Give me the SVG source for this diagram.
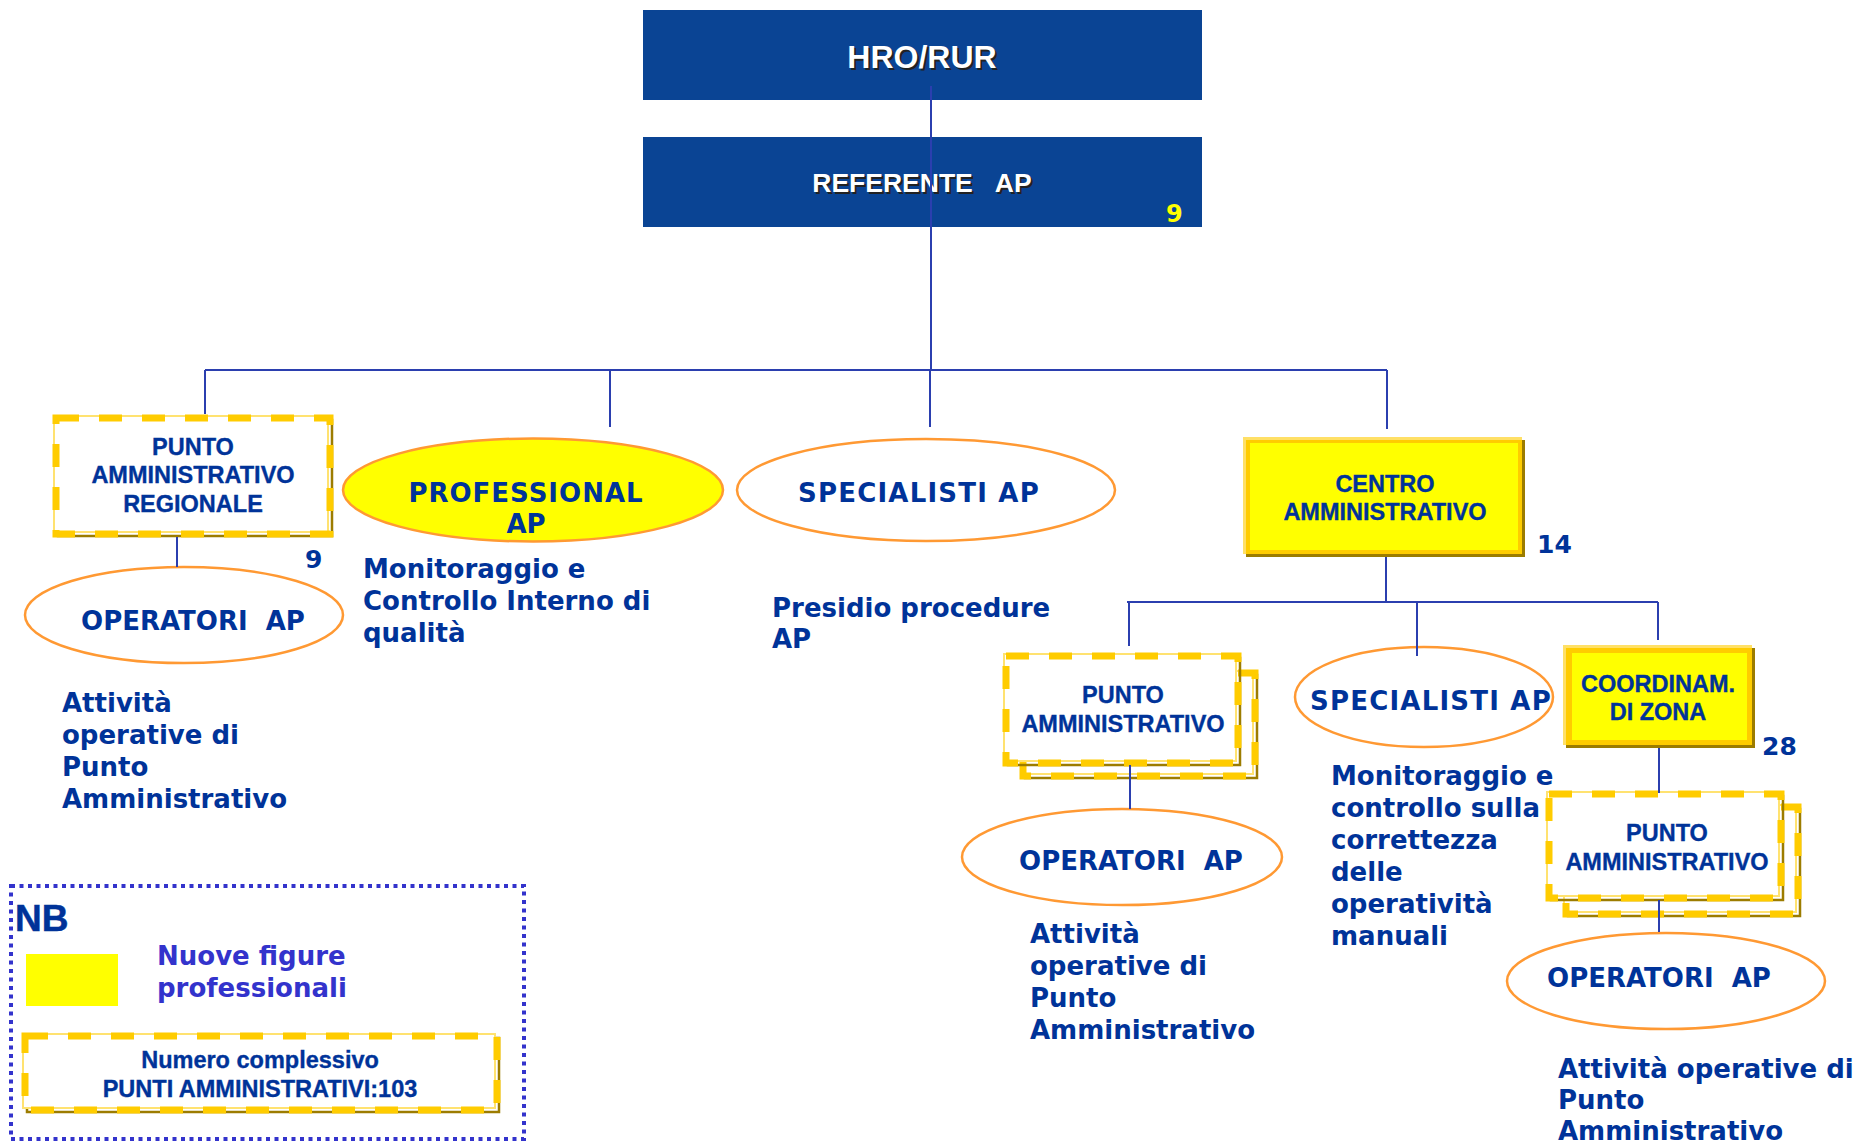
<svg xmlns="http://www.w3.org/2000/svg" width="1860" height="1144" viewBox="0 0 1860 1144">
<style>
.hdr{fill:#0A4494}
.hl{font-family:"Liberation Sans",Arial,sans-serif;font-weight:bold;text-anchor:middle}
.hw{fill:#ffffff}
.hs{fill:#222222}
.bx{font-family:"Liberation Sans",Arial,sans-serif;font-weight:bold;font-size:23.5px;fill:#003399;stroke:#003399;stroke-width:0.35;text-anchor:middle}
.el{font-family:"DejaVu Sans",Verdana,sans-serif;font-weight:bold;font-size:26px;fill:#003399;text-anchor:middle}
.ds{font-family:"DejaVu Sans",Verdana,sans-serif;font-weight:bold;font-size:26px;fill:#003399}
.num{font-family:"DejaVu Sans",Verdana,sans-serif;font-weight:bold;font-size:25px;fill:#003399}
.ov{fill:#ffffff;stroke:#FF9933;stroke-width:2.5}
.ovy{fill:#FFFF00;stroke:#FF9933;stroke-width:2.5}
.dsh{fill:none;stroke:#9C7C00;stroke-width:2.5}
.dlt{fill:#ffffff;stroke:#FFE270;stroke-width:2}
.dgd{fill:none;stroke:#FFCC00;stroke-width:7;stroke-dasharray:23 20}
.gsh{fill:#9C7C00}
.gbd{fill:#FFCC00}
.gin{fill:#FFFF00}
.con{stroke:#2B3FAF;stroke-width:2;fill:none}
</style>

<g id="hro">
<rect class="hdr" x="643" y="10" width="559" height="90"/>
<text class="hl hs" x="924" y="70" font-size="32">HRO/RUR</text>
<text class="hl hw" x="922" y="68" font-size="32">HRO/RUR</text>
</g>

<g id="referente">
<rect class="hdr" x="643" y="137" width="559" height="90"/>
<text class="hl hs" x="924" y="194" font-size="26.5">REFERENTE&#160;&#160;&#160;AP</text>
<text class="hl hw" x="922" y="192" font-size="26.5">REFERENTE&#160;&#160;&#160;AP</text>
<text x="1166" y="222" font-family="DejaVu Sans, Verdana, sans-serif" font-weight="bold" font-size="24" fill="#FFFF00">9</text>
</g>

<g id="par">
<rect class="dsh" x="58" y="420" width="274" height="116"/>
<rect class="dlt" x="54" y="416" width="274" height="116"/>
<rect class="dgd" x="56" y="418" width="274" height="116"/>
<text class="bx" x="193" y="455">PUNTO</text>
<text class="bx" x="193" y="483">AMMINISTRATIVO</text>
<text class="bx" x="193" y="512">REGIONALE</text>
<text class="num" x="305" y="568">9</text>
</g>

<g id="operatori-left">
<ellipse class="ov" cx="184" cy="615" rx="159" ry="48"/>
<text class="el" x="193" y="630">OPERATORI&#160; AP</text>
<text class="ds" x="62" y="712">Attività</text>
<text class="ds" x="62" y="744">operative di</text>
<text class="ds" x="62" y="776">Punto</text>
<text class="ds" x="62" y="808">Amministrativo</text>
</g>

<g id="professional">
<ellipse class="ovy" cx="533" cy="490" rx="190" ry="51.5"/>
<text class="el" x="526" y="502" font-size="25.5" letter-spacing="1">PROFESSIONAL</text>
<text class="el" x="526" y="533" font-size="25.5">AP</text>
<text class="ds" x="363" y="578">Monitoraggio e</text>
<text class="ds" x="363" y="610">Controllo Interno di</text>
<text class="ds" x="363" y="642">qualità</text>
</g>

<g id="specialisti-top">
<ellipse class="ov" cx="926" cy="490" rx="189" ry="51"/>
<text class="el" x="919" y="502" letter-spacing="1.2">SPECIALISTI AP</text>
<text class="ds" x="772" y="617">Presidio procedure</text>
<text class="ds" x="772" y="648">AP</text>
</g>

<g id="centro">
<rect class="gsh" x="1246" y="440" width="279" height="117"/>
<rect class="gbd" x="1243" y="437" width="279" height="117"/>
<rect fill="#FFE066" x="1243" y="437" width="279" height="3"/>
<rect fill="#FFE066" x="1243" y="437" width="3" height="117"/>
<rect class="gin" x="1250" y="443" width="268" height="107"/>
<text class="bx" x="1385" y="492">CENTRO</text>
<text class="bx" x="1385" y="520">AMMINISTRATIVO</text>
<text class="num" x="1537" y="553">14</text>
</g>

<g id="punto-mid">
<rect class="dsh" x="1025" y="675" width="232" height="103"/>
<rect class="dlt" x="1021" y="671" width="232" height="103"/>
<rect class="dgd" x="1023" y="673" width="232" height="103"/>
<rect class="dsh" x="1008" y="658" width="232" height="107"/>
<rect class="dlt" x="1004" y="654" width="232" height="107"/>
<rect class="dgd" x="1006" y="656" width="232" height="107"/>
<text class="bx" x="1123" y="703">PUNTO</text>
<text class="bx" x="1123" y="732">AMMINISTRATIVO</text>
</g>

<g id="operatori-mid">
<ellipse class="ov" cx="1122" cy="857" rx="160" ry="48"/>
<text class="el" x="1131" y="870">OPERATORI&#160; AP</text>
<text class="ds" x="1030" y="943">Attività</text>
<text class="ds" x="1030" y="975">operative di</text>
<text class="ds" x="1030" y="1007">Punto</text>
<text class="ds" x="1030" y="1039">Amministrativo</text>
</g>

<g id="specialisti-right">
<ellipse class="ov" cx="1424" cy="697" rx="129" ry="50"/>
<text class="el" x="1431" y="710" letter-spacing="1.2">SPECIALISTI AP</text>
<text class="ds" x="1331" y="785">Monitoraggio e</text>
<text class="ds" x="1331" y="817">controllo sulla</text>
<text class="ds" x="1331" y="849">correttezza</text>
<text class="ds" x="1331" y="881">delle</text>
<text class="ds" x="1331" y="913">operatività</text>
<text class="ds" x="1331" y="945">manuali</text>
</g>

<g id="coordinam">
<rect class="gsh" x="1566" y="648" width="189" height="100"/>
<rect class="gbd" x="1563" y="645" width="189" height="100"/>
<rect fill="#FFE066" x="1563" y="645" width="189" height="3"/>
<rect fill="#FFE066" x="1563" y="645" width="3" height="100"/>
<rect class="gin" x="1572" y="653" width="175" height="87"/>
<text class="bx" x="1658" y="692">COORDINAM.</text>
<text class="bx" x="1658" y="720">DI ZONA</text>
<text class="num" x="1762" y="755">28</text>
</g>

<g id="punto-right">
<rect class="dsh" x="1568" y="809" width="232" height="107"/>
<rect class="dlt" x="1564" y="805" width="232" height="107"/>
<rect class="dgd" x="1566" y="807" width="232" height="107"/>
<rect class="dsh" x="1551" y="796" width="232" height="104"/>
<rect class="dlt" x="1547" y="792" width="232" height="104"/>
<rect class="dgd" x="1549" y="794" width="232" height="104"/>
<text class="bx" x="1667" y="841">PUNTO</text>
<text class="bx" x="1667" y="870">AMMINISTRATIVO</text>
</g>

<g id="operatori-right">
<ellipse class="ov" cx="1666" cy="981" rx="159" ry="48"/>
<text class="el" x="1659" y="987">OPERATORI&#160; AP</text>
<text class="ds" x="1558" y="1078">Attività operative di</text>
<text class="ds" x="1558" y="1109">Punto</text>
<text class="ds" x="1558" y="1140">Amministrativo</text>
</g>

<g id="legend">
<rect x="11" y="886" width="513" height="253" fill="none" stroke="#3333CC" stroke-width="4" stroke-dasharray="4 4.5"/>
<text x="15" y="931" font-family="Liberation Sans, Arial, sans-serif" font-weight="bold" font-size="37" fill="#003399" stroke="#003399" stroke-width="0.5">NB</text>
<rect x="26" y="954" width="92" height="52" fill="#FFFF00"/>
<text x="157" y="965" font-family="DejaVu Sans, Verdana, sans-serif" font-weight="bold" font-size="26" fill="#3333CC">Nuove figure</text>
<text x="157" y="997" font-family="DejaVu Sans, Verdana, sans-serif" font-weight="bold" font-size="26" fill="#3333CC">professionali</text>
<rect class="dsh" x="27" y="1038" width="472" height="74"/>
<rect class="dlt" x="23" y="1034" width="472" height="74"/>
<rect class="dgd" x="25" y="1036" width="472" height="74"/>
<text class="bx" x="260" y="1068" font-size="23">Numero complessivo</text>
<text class="bx" x="260" y="1097" font-size="23">PUNTI AMMINISTRATIVI:103</text>
</g>

<g id="connectors">
<path class="con" d="M931 86 V370"/>
<path class="con" d="M205 370 H1387"/>
<path class="con" d="M205 370 V414"/>
<path class="con" d="M610 370 V427"/>
<path class="con" d="M930 370 V427"/>
<path class="con" d="M1387 370 V429"/>
<path class="con" d="M177 537 V567"/>
<path class="con" d="M1386 557 V602"/>
<path class="con" d="M1127 602 H1658"/>
<path class="con" d="M1129 602 V646"/>
<path class="con" d="M1417 602 V656"/>
<path class="con" d="M1658 602 V640"/>
<path class="con" d="M1130 765 V809"/>
<path class="con" d="M1659 748 V793"/>
<path class="con" d="M1659 900 V932"/>
</g>
</svg>
